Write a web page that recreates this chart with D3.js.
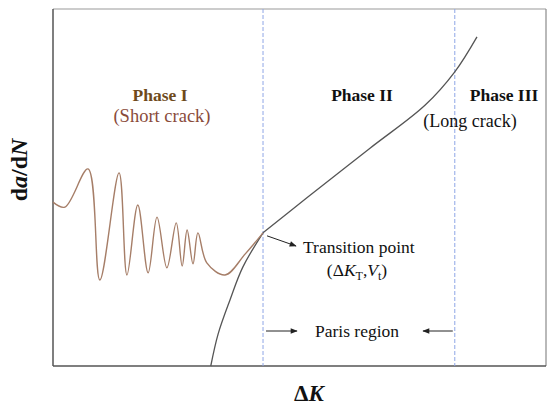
<!DOCTYPE html>
<html>
<head>
<meta charset="utf-8">
<script src="https://cdn.jsdelivr.net/npm/d3@7"></script>
</head>
<body style="margin:0;background:#fff">
<svg id="chart" width="550" height="408" style="display:block">
  <g id="labels" font-family="Liberation Serif" fill="#111">
    <text x="160" y="101" text-anchor="middle" font-size="17.5" font-weight="bold" fill="#6e4a1c">Phase I</text>
    <text x="162" y="122" text-anchor="middle" font-size="18.5" fill="#8a4b3b">(Short crack)</text>
    <text x="362" y="101" text-anchor="middle" font-size="17.5" font-weight="bold">Phase II</text>
    <text x="504" y="101" text-anchor="middle" font-size="17.5" font-weight="bold">Phase III</text>
    <text x="470" y="127" text-anchor="middle" font-size="18">(Long crack)</text>
    <text x="303" y="253" font-size="17.5">Transition point</text>
    <text x="357" y="276" text-anchor="middle" font-size="17.5">(Δ<tspan font-style="italic">K</tspan><tspan font-size="12" dy="4">T</tspan><tspan dy="-4">,</tspan><tspan font-style="italic">V</tspan><tspan font-size="12" dy="4">t</tspan><tspan dy="-4">)</tspan></text>
    <text x="357" y="337" text-anchor="middle" font-size="17.5">Paris region</text>
    <text x="309" y="401" text-anchor="middle" font-size="23" font-weight="bold">Δ<tspan font-style="italic">K</tspan></text>
    <text transform="translate(27,170) rotate(-90)" text-anchor="middle" font-size="24" font-weight="bold">d<tspan font-style="italic">a</tspan>/d<tspan font-style="italic">N</tspan></text>
  </g>
</svg>
<script>
// ---- data (schematic units: ΔK on x, da/dN on y, both 0..100) ----
const shortCrackDK  = [0, 2.4, 7.1, 9.5, 13.4, 15.0, 17.2, 19.3, 21.1, 23.1, 25.0, 26.2, 27.2, 28.4, 29.4, 31.2, 34.9, 39.0, 42.6];
const shortCrackRate = [45.9, 44.5, 55.2, 24.1, 54.1, 25.5, 45.1, 26.1, 41.7, 27.5, 40.1, 28.0, 38.1, 28.6, 37.3, 28.9, 25.5, 31.4, 37.3];
const longCrackDK   = [32.0, 33.5, 35.9, 38.5, 42.6, 51.5, 64.3, 75.5, 81.5, 86.0];
const longCrackRate = [0, 9.0, 18.5, 27.7, 37.3, 47.1, 61.0, 73.1, 82.4, 92.2];
const transitionIndex = 4;   // index of transition point in long-crack arrays
const transitionDK = 42.6;   // ΔK_T
const transitionRate = 37.3; // V_t
const phaseIIIStartDK = 81.5;

const frame = { left: 53, right: 546, top: 9, bottom: 366 };
const svg = d3.select("#chart");
const below = () => svg.insert("g", "#labels");

const x = d3.scaleLinear().domain([0, 100]).range([frame.left, frame.right]);
const y = d3.scaleLinear().domain([0, 100]).range([frame.bottom, frame.top]);

// arrow marker
const defs = svg.insert("defs", "#labels");
defs.append("marker")
  .attr("id", "arrow").attr("viewBox", "0 0 10 10")
  .attr("refX", 9).attr("refY", 5)
  .attr("markerWidth", 9).attr("markerHeight", 7)
  .attr("markerUnits", "userSpaceOnUse")
  .attr("orient", "auto")
  .append("path").attr("d", "M0,1 L10,5 L0,9 Z").attr("fill", "#222");

const g = below();

// frame (top/right lighter)
g.append("line").attr("x1", x(0)).attr("x2", x(100)).attr("y1", y(100)).attr("y2", y(100))
  .attr("stroke", "#9a9a9a").attr("stroke-width", 1.2);
g.append("line").attr("x1", x(100)).attr("x2", x(100)).attr("y1", y(100)).attr("y2", y(0))
  .attr("stroke", "#8a8a8a").attr("stroke-width", 1.2);
g.append("line").attr("x1", x(0)).attr("x2", x(0)).attr("y1", y(100)).attr("y2", y(0))
  .attr("stroke", "#555").attr("stroke-width", 1.5);
g.append("line").attr("x1", x(0)).attr("x2", x(100)).attr("y1", y(0)).attr("y2", y(0))
  .attr("stroke", "#555").attr("stroke-width", 1.5);

// phase boundaries (dashed)
[transitionDK, phaseIIIStartDK].forEach(v => {
  g.append("line")
    .attr("x1", x(v)).attr("x2", x(v)).attr("y1", y(100)).attr("y2", y(0))
    .attr("stroke", "#8fa6e6").attr("stroke-width", 1)
    .attr("stroke-dasharray", "4,2");
});

// curves
const line = d3.line().x(d => x(d[0])).y(d => y(d[1])).curve(d3.curveCatmullRom.alpha(0.5));
const longPts = d3.zip(longCrackDK, longCrackRate);
g.append("path")
  .attr("d", line(longPts.slice(0, transitionIndex + 1)))
  .attr("fill", "none").attr("stroke", "#555").attr("stroke-width", 1.3);
g.append("path")
  .attr("d", line(longPts.slice(transitionIndex)))
  .attr("fill", "none").attr("stroke", "#555").attr("stroke-width", 1.3);
g.append("path")
  .attr("d", line(d3.zip(shortCrackDK, shortCrackRate)))
  .attr("fill", "none").attr("stroke", "#a67e68").attr("stroke-width", 1.4);

// annotation arrows
g.append("line")
  .attr("x1", x(transitionDK) + 4).attr("y1", y(transitionRate) + 3)
  .attr("x2", 296).attr("y2", 246)
  .attr("stroke", "#222").attr("stroke-width", 1).attr("marker-end", "url(#arrow)");
g.append("line").attr("x1", x(transitionDK) + 3).attr("x2", 297).attr("y1", 331).attr("y2", 331)
  .attr("stroke", "#222").attr("stroke-width", 1).attr("marker-end", "url(#arrow)");
g.append("line").attr("x1", x(phaseIIIStartDK) - 2).attr("x2", 423).attr("y1", 331).attr("y2", 331)
  .attr("stroke", "#222").attr("stroke-width", 1).attr("marker-end", "url(#arrow)");
</script>
</body>
</html>
